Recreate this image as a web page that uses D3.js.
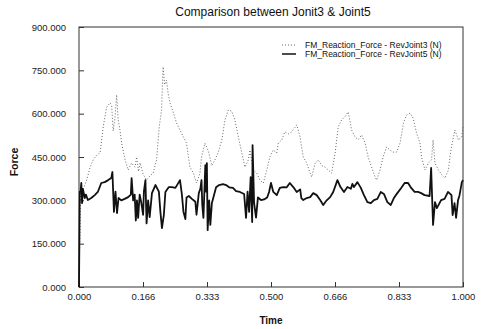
<!DOCTYPE html>
<html>
<head>
<meta charset="utf-8">
<script src="https://cdn.jsdelivr.net/npm/d3@7"></script>
<style>
  html, body { margin: 0; padding: 0; background: #fff; }
  svg { display: block; font-family: "Liberation Sans", Arial, sans-serif; }
</style>
</head>
<body>
<svg id="chart" width="483" height="329"></svg>
<script>
// values
const timeTicks = [0, 1 / 6, 2 / 6, 0.5, 4 / 6, 5 / 6, 1];
const timeLabels = ['0.000', '0.166', '0.333', '0.500', '0.666', '0.833', '1.000'];
const forceTicks = [0, 150, 300, 450, 600, 750, 900];

const joint3Time = [0, 0.004, 0.008, 0.013, 0.020, 0.029, 0.037, 0.046, 0.055, 0.059, 0.063, 0.072, 0.081, 0.085, 0.089, 0.094, 0.098, 0.102, 0.107, 0.111, 0.120, 0.128, 0.137, 0.146, 0.150, 0.155, 0.159, 0.167, 0.176, 0.185, 0.193, 0.202, 0.209, 0.215, 0.219, 0.223, 0.228, 0.232, 0.237, 0.246, 0.254, 0.263, 0.272, 0.280, 0.285, 0.289, 0.298, 0.306, 0.315, 0.319, 0.328, 0.337, 0.346, 0.354, 0.362, 0.372, 0.380, 0.389, 0.398, 0.406, 0.415, 0.424, 0.432, 0.441, 0.445, 0.454, 0.463, 0.471, 0.480, 0.489, 0.497, 0.506, 0.515, 0.519, 0.528, 0.536, 0.545, 0.554, 0.567, 0.576, 0.580, 0.584, 0.593, 0.602, 0.606, 0.615, 0.623, 0.632, 0.641, 0.649, 0.658, 0.667, 0.675, 0.684, 0.693, 0.701, 0.710, 0.719, 0.727, 0.736, 0.745, 0.753, 0.762, 0.771, 0.775, 0.784, 0.792, 0.801, 0.810, 0.818, 0.827, 0.836, 0.845, 0.853, 0.862, 0.870, 0.879, 0.888, 0.892, 0.901, 0.910, 0.918, 0.922, 0.927, 0.936, 0.944, 0.953, 0.962, 0.966, 0.970, 0.979, 0.988, 0.997, 1.0];
const joint3Force = [0, 330, 336, 345, 370, 415, 440, 457, 464, 509, 554, 623, 637, 630, 540, 590, 665, 580, 540, 498, 440, 405, 429, 415, 450, 400, 430, 390, 370, 385, 394, 440, 554, 613, 762, 700, 716, 671, 637, 602, 568, 543, 519, 498, 450, 415, 394, 360, 394, 450, 498, 470, 420, 440, 464, 509, 578, 613, 608, 578, 519, 464, 415, 440, 474, 405, 394, 370, 360, 405, 450, 474, 464, 498, 509, 537, 530, 537, 561, 519, 481, 450, 429, 394, 381, 429, 440, 420, 415, 405, 394, 464, 554, 578, 590, 606, 543, 519, 510, 526, 498, 450, 415, 381, 370, 405, 450, 485, 474, 467, 467, 498, 568, 595, 602, 585, 533, 498, 450, 405, 429, 440, 509, 429, 405, 390, 377, 405, 450, 485, 543, 509, 519, 560];

const joint5Time = [0, 0.002, 0.004, 0.006, 0.008, 0.010, 0.015, 0.018, 0.023, 0.032, 0.041, 0.049, 0.058, 0.067, 0.076, 0.084, 0.087, 0.091, 0.095, 0.099, 0.103, 0.110, 0.119, 0.128, 0.135, 0.137, 0.141, 0.145, 0.148, 0.151, 0.154, 0.158, 0.162, 0.167, 0.169, 0.173, 0.176, 0.180, 0.184, 0.190, 0.199, 0.208, 0.212, 0.216, 0.221, 0.225, 0.234, 0.242, 0.251, 0.260, 0.263, 0.268, 0.272, 0.277, 0.280, 0.286, 0.294, 0.303, 0.306, 0.312, 0.316, 0.319, 0.321, 0.324, 0.329, 0.331, 0.333, 0.335, 0.339, 0.342, 0.346, 0.352, 0.357, 0.365, 0.375, 0.383, 0.391, 0.401, 0.409, 0.419, 0.430, 0.435, 0.439, 0.443, 0.447, 0.451, 0.452, 0.456, 0.461, 0.466, 0.474, 0.482, 0.490, 0.495, 0.500, 0.506, 0.515, 0.523, 0.532, 0.541, 0.549, 0.558, 0.567, 0.576, 0.579, 0.584, 0.593, 0.602, 0.610, 0.619, 0.628, 0.636, 0.645, 0.654, 0.662, 0.673, 0.681, 0.690, 0.699, 0.708, 0.712, 0.716, 0.725, 0.734, 0.742, 0.751, 0.760, 0.768, 0.777, 0.786, 0.794, 0.803, 0.812, 0.820, 0.829, 0.839, 0.848, 0.857, 0.865, 0.874, 0.883, 0.891, 0.900, 0.913, 0.917, 0.922, 0.927, 0.932, 0.943, 0.952, 0.961, 0.970, 0.973, 0.978, 0.982, 0.987, 0.991, 0.997, 1.0];
const joint5Force = [0, 330, 330, 360, 290, 340, 308, 320, 301, 308, 318, 329, 360, 363, 370, 377, 398, 260, 330, 256, 308, 300, 305, 311, 320, 377, 300, 320, 230, 300, 239, 320, 294, 250, 330, 370, 220, 300, 242, 325, 353, 330, 260, 204, 250, 329, 346, 346, 343, 363, 370, 320, 260, 235, 310, 315, 305, 295, 250, 325, 340, 370, 285, 239, 422, 330, 429, 197, 300, 215, 290, 320, 345, 353, 356, 353, 345, 343, 332, 329, 322, 239, 330, 260, 380, 225, 491, 290, 240, 310, 301, 303, 310, 329, 360, 329, 318, 343, 346, 345, 360, 346, 329, 338, 308, 301, 308, 311, 325, 318, 301, 284, 300, 311, 329, 370, 346, 329, 346, 340, 357, 346, 363, 343, 318, 294, 290, 301, 305, 329, 322, 294, 284, 308, 325, 343, 360, 360, 343, 329, 329, 325, 318, 315, 412, 215, 294, 273, 301, 305, 329, 318, 249, 290, 239, 300, 318, 363, 370];

const seriesNames = ['FM_Reaction_Force - RevJoint3 (N)', 'FM_Reaction_Force - RevJoint5 (N)'];

const svg = d3.select('#chart');
const margin = { top: 27, right: 20, bottom: 42, left: 79 };
const width = 483 - margin.left - margin.right;
const height = 329 - margin.top - margin.bottom;

const g = svg.append('g').attr('transform', `translate(${margin.left},${margin.top})`);

const x = d3.scaleLinear().domain([0, 1]).range([0, width]);
const y = d3.scaleLinear().domain([0, 900]).range([height, 0]);

// frame
g.append('rect')
  .attr('width', width)
  .attr('height', height)
  .attr('fill', 'none')
  .attr('stroke', '#333')
  .attr('stroke-width', 1);

const xAxis = g.append('g')
  .attr('transform', `translate(0,${height})`)
  .call(d3.axisBottom(x).tickValues(timeTicks).tickFormat((d, i) => timeLabels[i]).tickSize(-5).tickPadding(6));

const yAxis = g.append('g')
  .call(d3.axisLeft(y).tickValues(forceTicks).tickFormat(d3.format('.3f')).tickSize(-5).tickPadding(13));

[xAxis, yAxis].forEach(ax => {
  ax.select('.domain').remove();
  ax.selectAll('line').attr('stroke', '#333');
  ax.selectAll('text').attr('fill', '#222').style('font-size', '9.5px').style('font-family', '"Liberation Sans", Arial, sans-serif');
});

const line = d3.line().x(d => x(d[0])).y(d => y(d[1]));

const joint3 = joint3Time.map((t, i) => [t, joint3Force[i]]);
const joint5 = joint5Time.map((t, i) => [t, joint5Force[i]]);

g.append('path')
  .datum(joint3)
  .attr('fill', 'none')
  .attr('stroke', '#666')
  .attr('stroke-width', 1)
  .attr('stroke-dasharray', '1 2')
  .attr('d', line);

g.append('path')
  .datum(joint5)
  .attr('fill', 'none')
  .attr('stroke', '#111')
  .attr('stroke-width', 1.8)
  .attr('stroke-linejoin', 'round')
  .attr('d', line);

// title and axis labels
svg.append('text')
  .attr('x', 273)
  .attr('y', 16)
  .attr('text-anchor', 'middle')
  .style('font-size', '12px')
  .attr('fill', '#111')
  .text('Comparison between Jonit3 & Joint5');

svg.append('text')
  .attr('transform', 'translate(18,162) rotate(-90)')
  .attr('text-anchor', 'middle')
  .style('font-size', '10.5px')
  .style('font-weight', 'bold')
  .attr('fill', '#111')
  .text('Force');

svg.append('text')
  .attr('x', 271)
  .attr('y', 324)
  .attr('text-anchor', 'middle')
  .style('font-size', '10px')
  .style('font-weight', 'bold')
  .attr('fill', '#111')
  .text('Time');

// legend
const legend = svg.append('g').attr('transform', 'translate(282,45)');
seriesNames.forEach((name, i) => {
  const row = legend.append('g').attr('transform', `translate(0,${i * 9})`);
  row.append('line')
    .attr('x1', 0).attr('x2', 14)
    .attr('stroke', i === 0 ? '#666' : '#111')
    .attr('stroke-width', i === 0 ? 1 : 1.5)
    .attr('stroke-dasharray', i === 0 ? '1 2' : null);
  row.append('text')
    .attr('x', 23)
    .attr('dy', '0.35em')
    .style('font-size', '8.5px')
    .attr('fill', '#111')
    .text(name);
});
</script>
</body>
</html>
